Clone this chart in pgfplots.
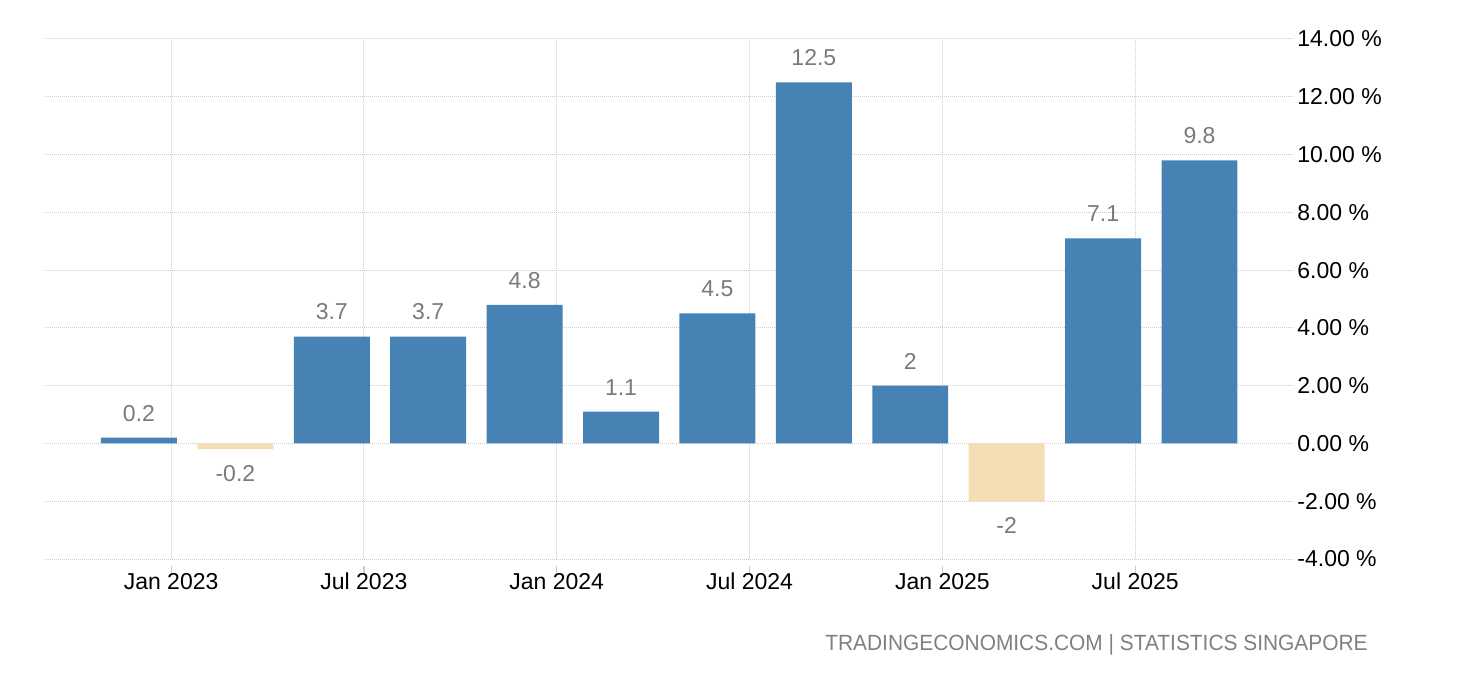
\documentclass[border=0pt]{standalone}
\usepackage{graphicx}
\usepackage{pgfplots}
\pgfplotsset{compat=1.18}
\usepackage{fontspec}
\setmainfont{Liberation Sans}
\definecolor{barblue}{HTML}{4682B4}
\definecolor{barneg}{HTML}{F5DEB3}
\definecolor{lblgray}{HTML}{7A7A7A}
\definecolor{wmgray}{HTML}{808080}
\definecolor{gridgray}{HTML}{CCCCCC}
\begin{document}
\begin{tikzpicture}
\useasboundingbox (-22pt,-60.5pt) rectangle (708pt,279.5pt);
\begin{axis}[
  at={(0,0)}, anchor=south west,
  scale only axis, width=624.5pt, height=260pt,
  xmin=-0.985, xmax=11.97, ymin=-4, ymax=14,
  axis line style={draw=none},
  /pgf/number format/assume math mode=true,
  ytick={-4,-2,...,14},
  yticklabel pos=right,
  yticklabel={\pgfmathprintnumber[fixed,fixed zerofill,precision=2]{\tick}\ \%},
  yticklabel style={anchor=west, inner sep=0pt, xshift=2pt, font=\fontsize{11.5}{13}\selectfont, text=black},
  ytick style={draw=none},
  xtick={0.3333,2.3333,4.3333,6.3333,8.3333,10.3333},
  xticklabels={Jan 2023,Jul 2023,Jan 2024,Jul 2024,Jan 2025,Jul 2025},
  xtick pos=bottom,
  major tick length=3.5pt,
  xtick style={draw=gridgray, yshift=-3.5pt, line width=0.6pt},
  xticklabel style={anchor=north, inner sep=0pt, text height=8.3pt, yshift=-3pt, font=\fontsize{11.5}{13}\selectfont, text=black},
  grid=major,
  major grid style={draw=gridgray, dash pattern=on 0.5pt off 0.5pt, line width=0.5pt},
  ybar, bar width=0.788, bar shift=0pt,
  nodes near coords={\pgfmathprintnumber[fixed,precision=1]{\pgfplotspointmeta}},
  nodes near coords style={font=\fontsize{11.5}{13}\selectfont, text=lblgray, inner sep=0pt},
]
\addplot[fill=barblue, draw=none, nodes near coords align={above},
  every node near coord/.append style={yshift=8pt}]
  coordinates {(0,0.2) (2,3.7) (3,3.7) (4,4.8) (5,1.1) (6,4.5) (7,12.5) (8,2) (10,7.1) (11,9.8)};
\addplot[fill=barneg, draw=none, nodes near coords align={below},
  every node near coord/.append style={yshift=-8pt}]
  coordinates {(1,-0.2) (9,-2)};
\end{axis}
\node[anchor=base east, inner sep=0pt, font=\fontsize{11}{13}\selectfont, text=wmgray] at (662pt,-45.5pt) {\scalebox{0.95}[1]{TRADINGECONOMICS.COM | STATISTICS SINGAPORE}};
\end{tikzpicture}
\end{document}
